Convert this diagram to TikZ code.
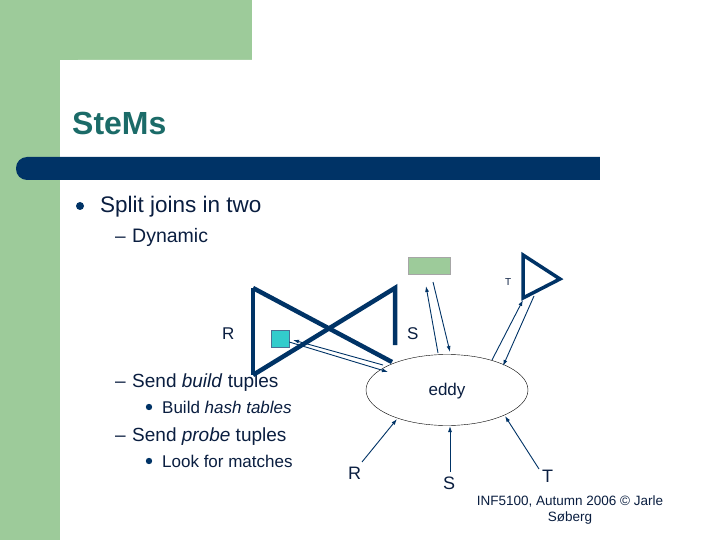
\documentclass[tikz,border=0pt]{standalone}
\usepackage{fontspec}
\setmainfont{Liberation Sans}
\usetikzlibrary{arrows.meta,shapes.geometric}
\definecolor{gr}{HTML}{9DCB9A}
\definecolor{navy}{HTML}{003366}
\definecolor{tl}{HTML}{1B6B68}
\definecolor{txt}{HTML}{0A1E40}
\definecolor{cy}{HTML}{33CCCC}
\begin{document}
\begin{tikzpicture}[x=1pt,y=-1pt,
  lbl/.style={text=txt,anchor=base west,inner sep=0},
  arr/.style={draw=navy,line width=0.9pt,-{Latex[length=6pt,width=4pt]}},
  thick/.style={draw=navy,line width=4.5pt,line join=miter}]
\useasboundingbox (0,0) rectangle (720,540);
\fill[gr] (0,0) rectangle (252,60);
\fill[gr] (0,0) rectangle (60,540);
\fill[white,rounded corners=18pt] (60,60) rectangle (740,560);
\fill[navy,rounded corners=11pt] (16,157) rectangle (640,180);
\fill[navy] (400,157) rectangle (600,180);
\fill[white] (600,150) rectangle (720,190);
\node[lbl,text=tl,font=\bfseries\fontsize{32}{33}\selectfont] (title) at (72,135) {SteMs};
\fill[navy] (80,206) circle (4pt);
\node[lbl,font=\fontsize{22.5}{24}\selectfont] (t1) at (100,213) {Split joins in two};
\node[lbl,font=\fontsize{19}{20}\selectfont] (d1) at (115,243) {–};
\node[lbl,font=\fontsize{19.5}{20}\selectfont] (t2) at (132,243) {Dynamic};
\node[lbl,font=\fontsize{19}{20}\selectfont] (d2) at (115,387) {–};
\node[lbl,font=\fontsize{19}{20}\selectfont] (t3) at (132,387) {Send \textit{build} tuples};
\fill[navy] (149,407) circle (3.2pt);
\node[lbl,font=\fontsize{17}{18}\selectfont] (t4) at (162,413) {Build \textit{hash tables}};
\node[lbl,font=\fontsize{19}{20}\selectfont] (d3) at (115,441) {–};
\node[lbl,font=\fontsize{19}{20}\selectfont] (t5) at (132,441) {Send \textit{probe} tuples};
\fill[navy] (149,461) circle (3.2pt);
\node[lbl,font=\fontsize{17}{18}\selectfont] (t6) at (162,467) {Look for matches};
% bowtie
\draw[thick] (253,288) -- (253,375);
\draw[thick] (253,288) -- (392,362);
\draw[thick] (253,375) -- (395,288) -- (395,345);
\node[draw=navy!70,fill=cy,minimum width=18pt,minimum height=17pt,inner sep=0] (sq) at (280,339) {};
\node[draw=gray!70,fill=gr,minimum width=42pt,minimum height=17pt,inner sep=0] (gb) at (429,266) {};
\draw[navy,line width=3.5pt,line join=miter] (523,255) -- (523,298) -- (560,279) -- cycle;
\node[draw=black,ellipse,minimum width=162pt,minimum height=71pt,inner sep=0] (eddy) at (447,390) {};
\node[text=txt,font=\fontsize{17}{18}\selectfont] (el) at (447,391) {eddy};
\node[lbl,font=\fontsize{17}{18}\selectfont] (R1) at (222,339) {R};
\node[lbl,font=\fontsize{17}{18}\selectfont] (S1) at (407,339) {S};
\node[lbl,font=\fontsize{10}{11}\selectfont] (T1) at (505,285) {T};
\coordinate (e1) at (388,372); \coordinate (e2) at (383,365);
\draw[arr] (e2) -- (293,340);
\draw[arr] (sq.east) ++(0,3) -- (e1);
\draw[arr] (438,353) -- (426,286);
\draw[arr] (433,282) -- (450,352);
\draw[arr] (492,360) -- (523,300);
\draw[arr] (534,296) -- (503,366);
\node[lbl,font=\fontsize{18}{19}\selectfont] (R2) at (348,479) {R};
\node[lbl,font=\fontsize{18}{19}\selectfont] (S2) at (443,489) {S};
\node[lbl,font=\fontsize{18}{19}\selectfont] (T2) at (542,482) {T};
\draw[arr] (362,462) -- (397,419);
\draw[arr] (450,472) -- (450,426);
\draw[arr] (539,469) -- (505,416);
\node[text=txt,font=\fontsize{13.5}{16}\selectfont,align=center] (ft) at (570,510) {INF5100, Autumn 2006 © Jarle\\Søberg};
\end{tikzpicture}
\end{document}
